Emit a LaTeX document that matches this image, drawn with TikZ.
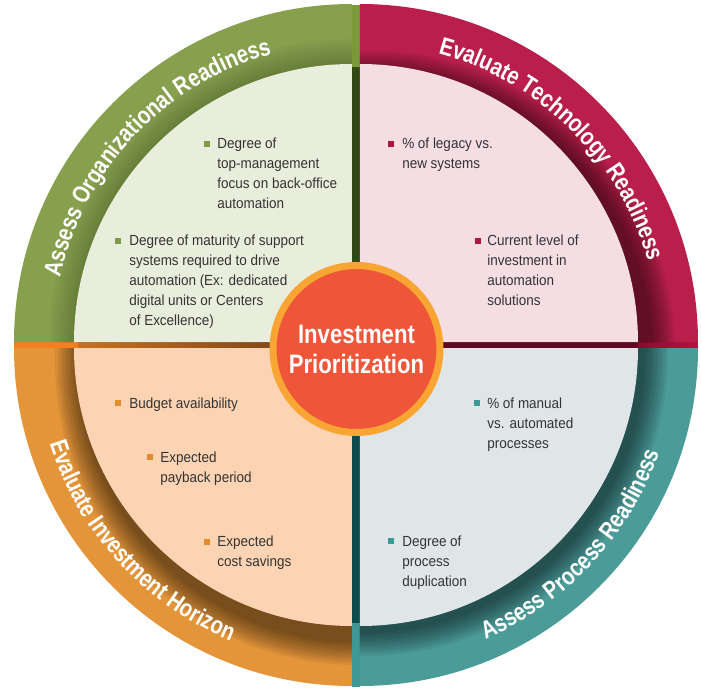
\documentclass[tikz,border=0pt]{standalone}
\usepackage{fontspec}
\usetikzlibrary{decorations.text}
\setmainfont{Liberation Sans}
\newfontfamily\bodyfont{Liberation Sans}[FakeStretch=0.92]
\newfontfamily\ttlfont{Liberation Sans}[FakeStretch=0.82]
\newfontfamily\ctrfont{Liberation Sans}[FakeStretch=0.83]
\newcommand\ttlfmt{\ttlfont\bfseries\fontsize{18.5pt}{20pt}\selectfont}
\newcommand\firstln{\rule{0pt}{9pt}}
\definecolor{gband}{HTML}{86A04E}
\definecolor{ginner}{HTML}{E9EEDC}
\definecolor{gside}{HTML}{7A9A3A}
\definecolor{gdark}{HTML}{2F4A14}
\definecolor{rband}{HTML}{B91F4A}
\definecolor{rinner}{HTML}{F5DDE4}
\definecolor{rdark}{HTML}{5F0A22}
\definecolor{rmid}{HTML}{8A0C2E}
\definecolor{rside}{HTML}{B8123D}
\definecolor{oband}{HTML}{E4953A}
\definecolor{oinner}{HTML}{FCD4B4}
\definecolor{oside}{HTML}{F47F20}
\definecolor{brL}{HTML}{C8701E}
\definecolor{brR}{HTML}{6A3812}
\definecolor{tband}{HTML}{4B9C99}
\definecolor{tinner}{HTML}{E0E6E7}
\definecolor{tdark}{HTML}{0D4C4A}
\definecolor{tside}{HTML}{3D9896}
\definecolor{ring}{HTML}{F9A533}
\definecolor{ctrred}{HTML}{EE5539}
\definecolor{txt}{HTML}{333333}
\definecolor{bg}{HTML}{7D9A45}
\definecolor{br}{HTML}{B0173F}
\definecolor{bo}{HTML}{E38C2C}
\definecolor{bt}{HTML}{3A9A96}
\tikzset{
  itm/.style={anchor=north west, inner sep=0pt, align=left, text=txt,
    font=\bodyfont\fontsize{11pt}{15pt}\selectfont},
  sq/.style={fill=#1, inner sep=0pt, minimum size=4.5pt, draw=none},
  ttl/.style={decorate, decoration={text along path, text={|\ttlfmt|#1},
    text align=center, text color=white}},
  ctr/.style={circle, fill=ctrred, draw=ring, line width=5.25pt, minimum size=125.25pt,
    inner sep=0pt, align=center, text=white,
    font=\ctrfont\bfseries\fontsize{20pt}{22.5pt}\selectfont}
}
\begin{document}
\begin{tikzpicture}[x=0.75pt,y=0.75pt]
\fill[white] (-356,-345) rectangle (345,345);
\useasboundingbox (-356,-345) rectangle (345,345);
% side strips
\fill[gside] (-4,278) rectangle (4,340);
\fill[gdark] (-4,3) rectangle (4,278);
\fill[oside] (-342,4) rectangle (-278,-4);
\shade[left color=brL, right color=brR] (-278,3) rectangle (-4,-3);
\fill[rdark] (4,3) rectangle (282,-3);
\shade[left color=rmid, right color=rside] (282,3) rectangle (342,-3);
\fill[tdark] (-4,-3) rectangle (4,-278);
\fill[tside] (-4,-278) rectangle (4,-342);
% quadrants
\foreach \cx/\cy/\a/\bc/\ic/\sx/\sy/\so in {-4/3/90/gband/ginner/0/0/0.02,
   4/3/0/rband/rinner/12/-12/0.06, -4/-3/180/oband/oinner/6/-14/0.06,
   4/-3/270/tband/tinner/5/-5/0.06}{
  \fill[\bc] (\cx,\cy) -- ++(\a:338) arc[start angle=\a, delta angle=90, radius=338] -- cycle;
  \begin{scope}
    \clip (\cx,\cy) -- ++(\a:338) arc[start angle=\a, delta angle=90, radius=338] -- cycle;
    \foreach \i in {1,...,10}
      \fill[black, opacity=\so] ({\cx+\sx},{\cy+\sy}) circle ({278+2.5*\i});
  \end{scope}
  \fill[\ic] (\cx,\cy) -- ++(\a:278) arc[start angle=\a, delta angle=90, radius=278] -- cycle;
}
% band titles
\path[ttl={Assess Organizational Readiness}]
  ([shift={(-4,3)}]176.6:299) arc[start angle=176.6, end angle=96.6, radius=299];
\path[ttl={Evaluate Technology Readiness}]
  ([shift={(4,3)}]85.25:299) arc[start angle=85.25, end angle=5.25, radius=299];
\path[ttl={Evaluate Investment Horizon}]
  ([shift={(-4,-3)}]182.5:317) arc[start angle=182.5, end angle=262.5, radius=317];
\path[ttl={Assess Process Readiness}]
  ([shift={(4,-3)}]277:317) arc[start angle=277, end angle=357, radius=317];
% bullets
\node[sq=bg] (tl1b) at (-149,200.5) {};
\node[itm] (tl1) at (-139,209) {\firstln Degree of\\top-management\\focus on back-office\\automation};
\node[sq=bg] (tl2b) at (-238,104.5) {};
\node[itm] (tl2) at (-227,112) {\firstln Degree of maturity of support\\systems required to drive\\automation (Ex: dedicated\\digital units or Centers\\of Excellence)};
\node[sq=br] (tr1b) at (35,200.5) {};
\node[itm] (tr1) at (46,209) {\firstln \% of legacy vs.\\new systems};
\node[sq=br] (tr2b) at (122,104.5) {};
\node[itm] (tr2) at (131,112) {\firstln Current level of\\investment in\\automation\\solutions};
\node[sq=bo] (bl1b) at (-238,-58) {};
\node[itm] (bl1) at (-227,-51) {\firstln Budget availability};
\node[sq=bo] (bl2b) at (-206,-112) {};
\node[itm] (bl2) at (-196,-105) {\firstln Expected\\payback period};
\node[sq=bo] (bl3b) at (-149,-196.5) {};
\node[itm] (bl3) at (-139,-189) {\firstln Expected\\cost savings};
\node[sq=bt] (br1b) at (121,-58) {};
\node[itm] (br1) at (131,-51) {\firstln \% of manual\\vs. automated\\processes};
\node[sq=bt] (br2b) at (35,-196) {};
\node[itm] (br2) at (46,-189) {\firstln Degree of\\process\\duplication};
% centre
\node[ctr] (ctr) at (0.5,-4) {Investment\\Prioritization};
\end{tikzpicture}
\end{document}
